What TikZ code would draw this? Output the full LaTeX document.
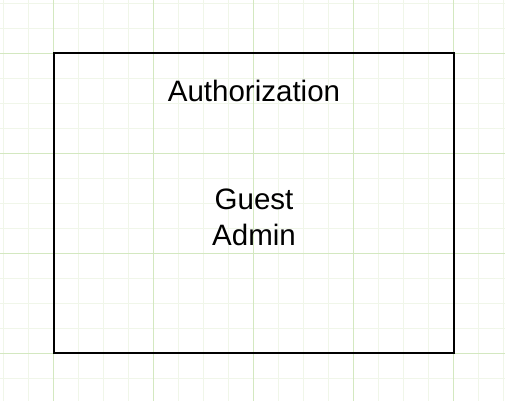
\documentclass[tikz,border=0pt]{standalone}
\usepackage{fontspec}
\setmainfont{Liberation Sans}
\definecolor{gridminor}{HTML}{F0F6E9}
\definecolor{gridmajor}{HTML}{D3E8C0}
\begin{document}
\begin{tikzpicture}[x=1pt,y=-1pt,
  lbl/.style={inner sep=0pt,font=\fontsize{29.5}{36.7}\selectfont,align=center,anchor=base},
  box/.style={draw=black,line width=2pt}]
\useasboundingbox (0,0) rectangle (505,401);
\fill[white] (0,0) rectangle (505,401);
% minor grid
\foreach \k in {0,...,20} {\draw[gridminor,line width=1pt] (3.5+25*\k,0) -- (3.5+25*\k,401);}
\foreach \k in {0,...,15} {\draw[gridminor,line width=1pt] (0,3.5+25*\k) -- (505,3.5+25*\k);}
% major grid
\foreach \v in {53,153,253,353,453} {\draw[gridmajor,line width=1pt] (\v+0.5,0) -- (\v+0.5,401);}
\foreach \v in {53,153,253,353} {\draw[gridmajor,line width=1pt] (0,\v+0.5) -- (505,\v+0.5);}
\draw[box] (54,53.5) rectangle (454,353);
\node[lbl] (auth) at (254,102) {Authorization};
\node[lbl] (roles) at (254,245.7) {Guest\\Admin};
\end{tikzpicture}
\end{document}
